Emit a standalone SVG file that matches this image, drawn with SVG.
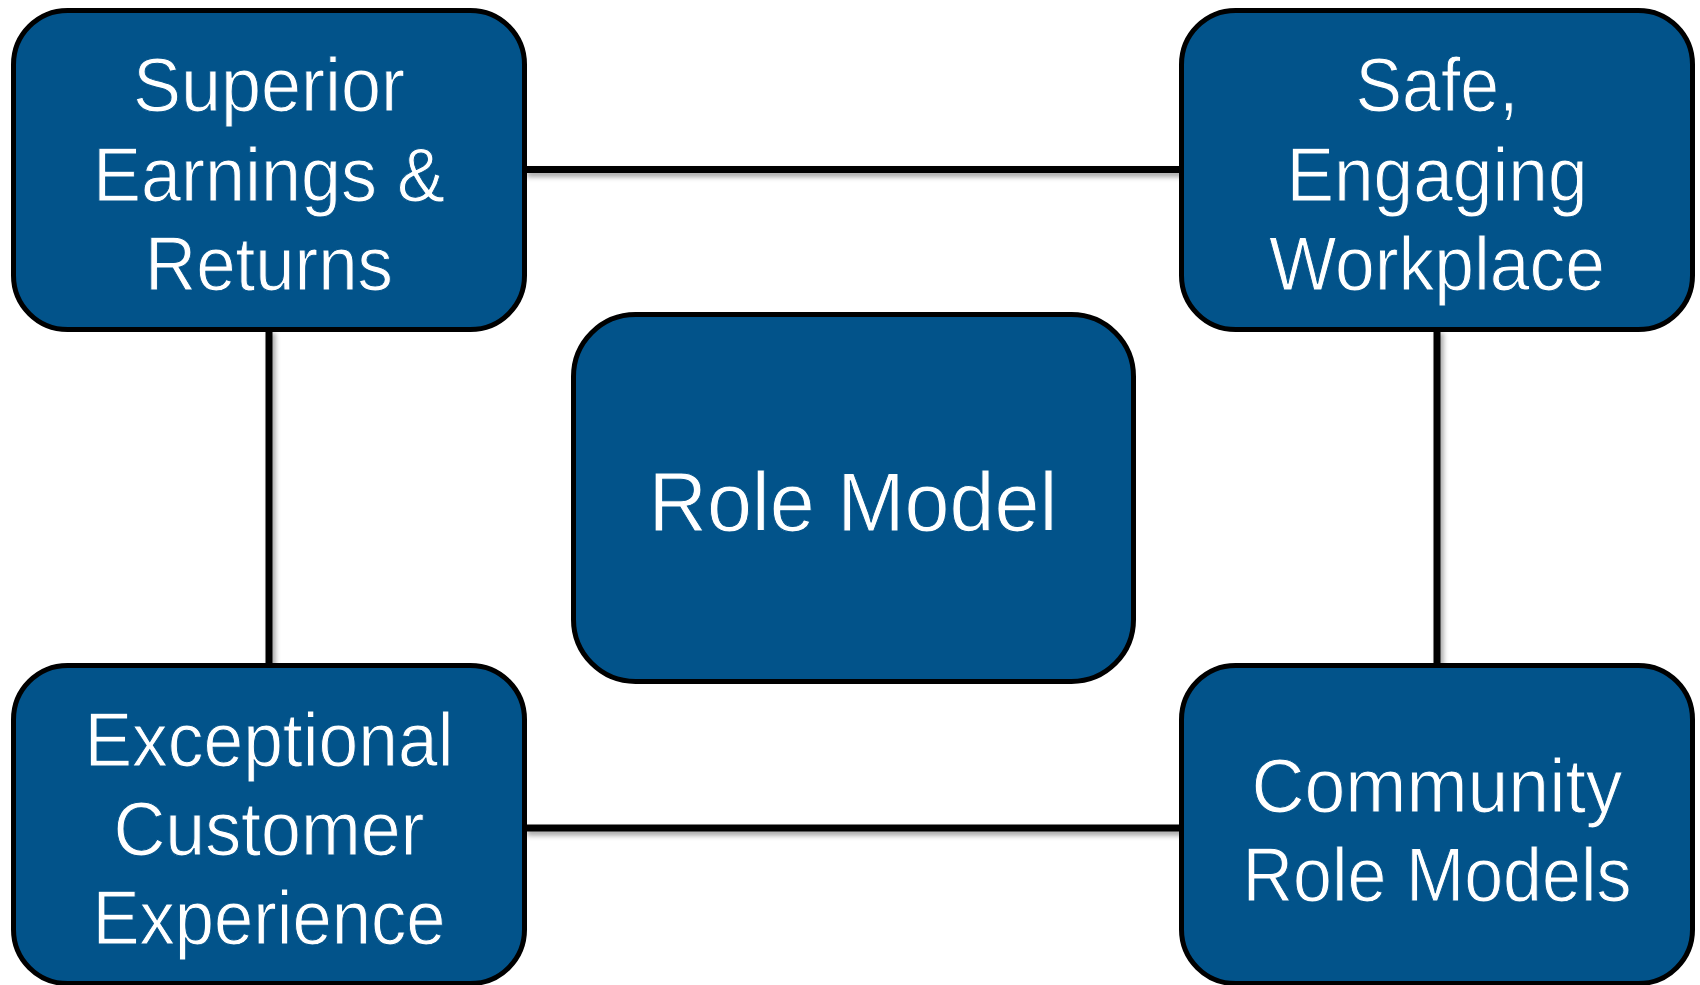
<svg xmlns="http://www.w3.org/2000/svg" width="1700" height="985" viewBox="0 0 1700 985">
  <defs>
    <filter id="sh" x="-20%" y="-50%" width="140%" height="200%">
      <feDropShadow dx="3" dy="4" stdDeviation="2.5" flood-color="#000" flood-opacity="0.35"/>
    </filter>
  </defs>
  <style>
    .box { fill: #02538a; stroke: #000; stroke-width: 5; }
    .conn { stroke: #000; stroke-width: 7; fill: none; }
    .t { font-family: "Liberation Sans", Arial, sans-serif; fill: #fff; text-anchor: middle; font-size: 76px; stroke: #02538a; stroke-width: 1; paint-order: fill; }
    .tc { font-size: 84px; }
  </style>
  <rect width="1700" height="985" fill="#fff"/>
  <g id="connectors" filter="url(#sh)">
    <line class="conn" x1="524" y1="169.5" x2="1182" y2="169.5"/>
    <line class="conn" x1="524" y1="828" x2="1182" y2="828"/>
    <line class="conn" x1="269" y1="329" x2="269" y2="666"/>
    <line class="conn" x1="1437" y1="329" x2="1437" y2="666"/>
  </g>
  <g id="node-superior">
    <rect class="box" x="13.5" y="10.5" width="511" height="319" rx="54"/>
    <text class="t" x="269" y="111" textLength="272" lengthAdjust="spacingAndGlyphs">Superior</text>
    <text class="t" x="269" y="201" textLength="352" lengthAdjust="spacingAndGlyphs">Earnings &amp;</text>
    <text class="t" x="269" y="290" textLength="248" lengthAdjust="spacingAndGlyphs">Returns</text>
  </g>
  <g id="node-safe">
    <rect class="box" x="1181.5" y="10.5" width="511" height="319" rx="54"/>
    <text class="t" x="1437" y="111" textLength="163" lengthAdjust="spacingAndGlyphs">Safe,</text>
    <text class="t" x="1437" y="201" textLength="301" lengthAdjust="spacingAndGlyphs">Engaging</text>
    <text class="t" x="1437" y="290" textLength="336" lengthAdjust="spacingAndGlyphs">Workplace</text>
  </g>
  <g id="node-exceptional">
    <rect class="box" x="13.5" y="665.5" width="511" height="318" rx="54"/>
    <text class="t" x="269" y="766" textLength="369" lengthAdjust="spacingAndGlyphs">Exceptional</text>
    <text class="t" x="269" y="855" textLength="311" lengthAdjust="spacingAndGlyphs">Customer</text>
    <text class="t" x="269" y="944" textLength="353" lengthAdjust="spacingAndGlyphs">Experience</text>
  </g>
  <g id="node-community">
    <rect class="box" x="1181.5" y="665.5" width="511" height="318" rx="54"/>
    <text class="t" x="1437" y="812" textLength="371" lengthAdjust="spacingAndGlyphs">Community</text>
    <text class="t" x="1437" y="901" textLength="389" lengthAdjust="spacingAndGlyphs">Role Models</text>
  </g>
  <g id="node-role-model">
    <rect class="box" x="573.5" y="314.5" width="560" height="367" rx="62"/>
    <text class="t tc" x="853" y="531" textLength="409" lengthAdjust="spacingAndGlyphs">Role Model</text>
  </g>
</svg>
